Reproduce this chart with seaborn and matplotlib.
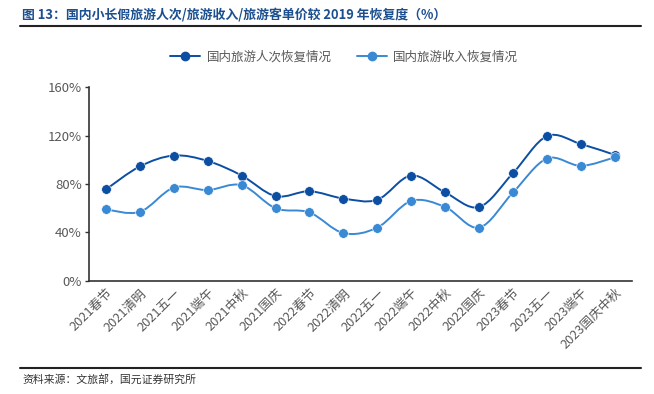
import matplotlib.pyplot as plt
import matplotlib.transforms as mtransforms
import numpy as np
import pandas as pd
import seaborn as sns
from matplotlib.lines import Line2D
from matplotlib.patches import PathPatch
from matplotlib.path import Path

categories = ["2021春节", "2021清明", "2021五一", "2021端午", "2021中秋", "2021国庆",
              "2022春节", "2022清明", "2022五一", "2022端午", "2022中秋", "2022国庆",
              "2023春节", "2023五一", "2023端午", "2023国庆中秋"]
trips = [75.5, 94.5, 103.5, 99, 87, 70, 74, 68, 67, 87, 73, 61, 89, 119.5, 113, 104]
revenue = [59, 57, 77, 75, 79, 60, 56.5, 39.5, 44, 66, 61, 44, 73, 101, 95, 102]

DARK = "#0b4ea2"
LIGHT = "#3a89d4"
GRAY = "#595959"


def smooth_path(ys):
    # Catmull-Rom style bezier through the points (like Excel smoothed lines)
    pts = np.column_stack([np.arange(len(ys)), ys]).astype(float)
    verts = [pts[0]]
    codes = [Path.MOVETO]
    n = len(pts)
    for i in range(n - 1):
        p0 = pts[i - 1] if i > 0 else pts[i]
        p1, p2 = pts[i], pts[i + 1]
        p3 = pts[i + 2] if i + 2 < n else pts[i + 1]
        c1 = p1 + (p2 - p0) / 6
        c2 = p2 - (p3 - p1) / 6
        verts += [c1, c2, p2]
        codes += [Path.CURVE4] * 3
    return Path(verts, codes)


def main() -> None:
    df = pd.DataFrame({"x": range(len(categories)), "trips": trips, "revenue": revenue})

    sns.set_theme(style="white")
    plt.rcParams["font.family"] = ["Noto Sans CJK SC", "DejaVu Sans"]

    fig = plt.figure(figsize=(6.54, 3.94), dpi=100)
    ax = fig.add_axes([0.136, 0.287, 0.830, 0.492])

    for col, color in [("trips", DARK), ("revenue", LIGHT)]:
        ax.add_patch(PathPatch(smooth_path(df[col].values), facecolor="none",
                               edgecolor=color, lw=1.4, zorder=2))
        sns.scatterplot(data=df, x="x", y=col, color=color, s=48, edgecolor="white",
                        linewidth=0.4, ax=ax, zorder=3, legend=False)

    ax.set_xlim(-0.5, len(categories) - 0.5)
    ax.set_ylim(0, 160)
    ax.set_yticks([0, 40, 80, 120, 160])
    ax.set_yticklabels([f"{v}%" for v in [0, 40, 80, 120, 160]], color=GRAY, fontsize=9.5)
    ax.set_xticks(range(len(categories)))
    ax.set_xticklabels(categories, rotation=45, ha="right", rotation_mode="anchor",
                       color=GRAY, fontsize=9.2)
    shift = mtransforms.ScaledTranslation(4 / 100, 0, fig.dpi_scale_trans)
    for lab in ax.get_xticklabels():
        lab.set_transform(lab.get_transform() + shift)
    ax.tick_params(axis="x", length=0, pad=4)
    ax.set_xticks(np.arange(-0.5, len(categories)), minor=True)
    ax.tick_params(axis="x", which="minor", direction="in", length=4, color="#333333", width=1)
    ax.tick_params(axis="y", direction="out", length=3, color="#333333", width=1, left=True, pad=2)
    ax.set_xlabel("")
    ax.set_ylabel("")
    for side in ["top", "right"]:
        ax.spines[side].set_visible(False)
    for side in ["left", "bottom"]:
        ax.spines[side].set_color("#333333")
        ax.spines[side].set_linewidth(1.2)

    handles = [Line2D([], [], color=DARK, lw=1.4, marker="o", markersize=6),
               Line2D([], [], color=LIGHT, lw=1.4, marker="o", markersize=6)]
    fig.legend(handles, ["国内旅游人次恢复情况", "国内旅游收入恢复情况"], loc="center",
               bbox_to_anchor=(0.526, 0.855), ncol=2, frameon=False, fontsize=9,
               handlelength=2.4, handletextpad=0.5, columnspacing=2.0, labelcolor=GRAY)

    fig.text(0.034, 0.963, "图 13：国内小长假旅游人次/旅游收入/旅游客单价较 2019 年恢复度（%）",
             fontsize=9.3, fontweight="bold", color="#1c4f8f", va="center")
    fig.add_artist(Line2D([0.03, 0.98], [0.935, 0.935], color="#222222", lw=1.5))
    fig.add_artist(Line2D([0.03, 0.98], [0.066, 0.066], color="#222222", lw=1.5))
    fig.text(0.034, 0.036, "资料来源：文旅部，国元证券研究所", fontsize=7.8, color="#333333",
             va="center")

    fig.savefig("out.png", dpi=100)


if __name__ == "__main__":
    main()
